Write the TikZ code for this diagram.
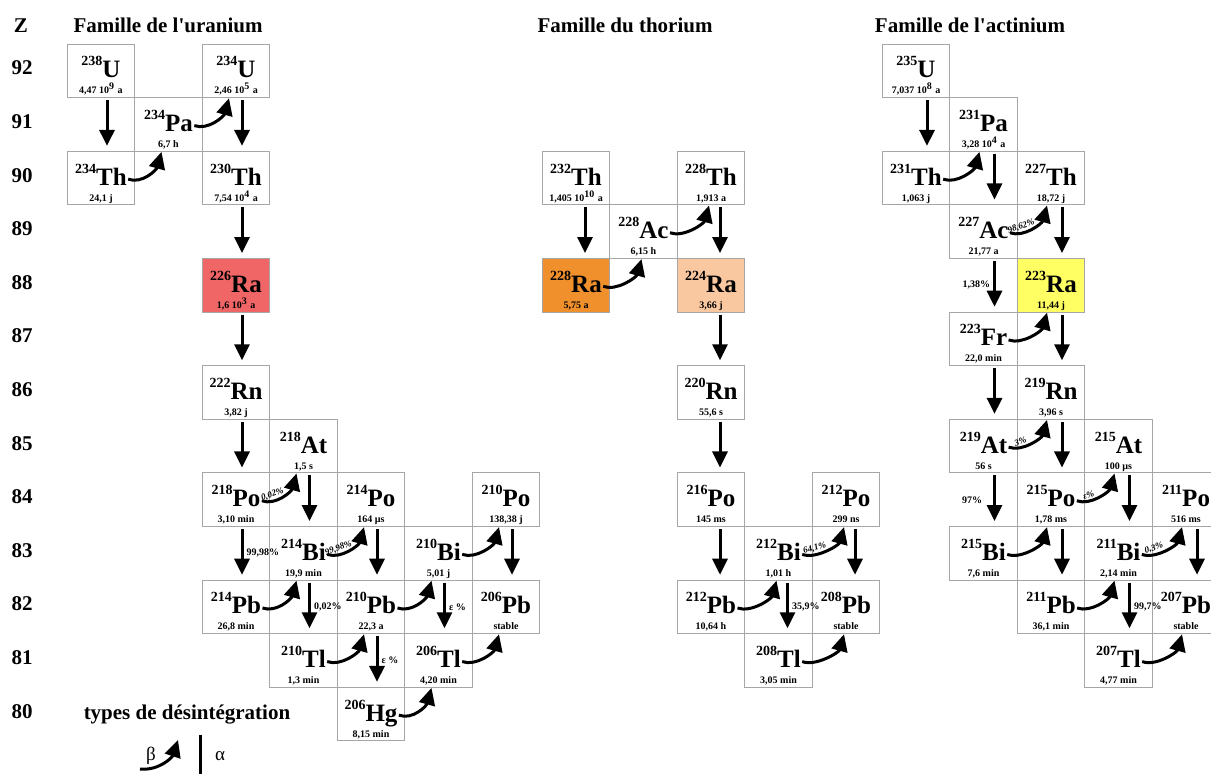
\documentclass[tikz,border=0pt]{standalone}
\usepackage{fontspec}
\setmainfont{Liberation Serif}
\usetikzlibrary{arrows.meta}

\definecolor{raU}{HTML}{F06666}
\definecolor{raTh}{HTML}{F0902C}
\definecolor{raThb}{HTML}{FAC8A0}
\definecolor{raAc}{HTML}{FFFF64}

\tikzset{
  nbox/.style={draw=black!35, line width=0.5pt, minimum width=33.75pt, minimum height=26.8pt, inner sep=0pt},
  sym/.style={font=\fontsize{12.5}{12.5}\selectfont\bfseries, inner sep=0.5pt, anchor=base},
  thalf/.style={font=\fontsize{5}{5}\selectfont\bfseries, inner sep=0pt, anchor=base},
  adecay/.style={line width=1.5pt, -{Triangle[width=7.5pt,length=8pt]}, shorten >=2.5pt, shorten <=1pt},
  bdecay/.style={line width=1.5pt, -{Triangle[width=8pt,length=8.5pt]}},
  pct/.style={font=\fontsize{5}{5}\selectfont\bfseries, inner sep=1.5pt},
  bpct/.style={font=\fontsize{4.5}{5}\selectfont\bfseries\itshape, inner sep=0.5pt},
  ttl/.style={font=\fontsize{10.5}{11}\selectfont\bfseries, anchor=base},
  grk/.style={font=\fontsize{9.5}{10}\selectfont, anchor=base},
}

\newcommand\nuc[7][white]{%
  \node[nbox, fill=#1] (#2) at (#3,{71+53.6*(92-#4)}) {};
  \node[sym] (s#2) at ([yshift=-3.5pt]#2.center) {\raisebox{6pt}{\fontsize{7}{7}\selectfont #5}#6};
  \node[thalf] (t#2) at ([yshift=-11.5pt]#2.center) {#7};
}

\begin{document}
\begin{tikzpicture}[x=0.5pt, y=-0.5pt]
	\useasboundingbox (0,0) rectangle (1211,774);
	\clip (0,0) rectangle (1211,774);

	\node[ttl] (zz) at (21,33) {Z};
	\foreach \z in {80,...,92}
		\node[ttl] (z\z) at (22,{75+53.6*(92-\z)}) {\z};
	\node[ttl] (fU) at (168,33) {Famille de l\textquotesingle uranium};
	\node[ttl] (fTh) at (625,33) {Famille du thorium};
	\node[ttl] (fAc) at (970,33) {Famille de l\textquotesingle actinium};

	\nuc{U238}{101}{92}{238}{U}{4,47 10\textsuperscript{9} a}
	\nuc{Th234}{101}{90}{234}{Th}{24,1 j}
	\nuc{Pa234}{168.5}{91}{234}{Pa}{6,7 h}
	\nuc{U234}{236}{92}{234}{U}{2,46 10\textsuperscript{5} a}
	\nuc{Th230}{236}{90}{230}{Th}{7,54 10\textsuperscript{4} a}
	\nuc[raU]{Ra226}{236}{88}{226}{Ra}{1,6 10\textsuperscript{3} a}
	\nuc{Rn222}{236}{86}{222}{Rn}{3,82 j}
	\nuc{At218}{303.5}{85}{218}{At}{1,5 s}
	\nuc{Po218}{236}{84}{218}{Po}{3,10 min}
	\nuc{Po214}{371}{84}{214}{Po}{164 µs}
	\nuc{Po210}{506}{84}{210}{Po}{138,38 j}
	\nuc{Bi214}{303.5}{83}{214}{Bi}{19,9 min}
	\nuc{Bi210}{438.5}{83}{210}{Bi}{5,01 j}
	\nuc{Pb214}{236}{82}{214}{Pb}{26,8 min}
	\nuc{Pb210}{371}{82}{210}{Pb}{22,3 a}
	\nuc{Pb206}{506}{82}{206}{Pb}{stable}
	\nuc{Tl210}{303.5}{81}{210}{Tl}{1,3 min}
	\nuc{Tl206}{438.5}{81}{206}{Tl}{4,20 min}
	\nuc{Hg206}{371}{80}{206}{Hg}{8,15 min}

	\nuc{Th232}{576}{90}{232}{Th}{1,405 10\textsuperscript{10} a}
	\nuc[raTh]{Ra228}{576}{88}{228}{Ra}{5,75 a}
	\nuc{Ac228}{643.5}{89}{228}{Ac}{6,15 h}
	\nuc{Th228}{711}{90}{228}{Th}{1,913 a}
	\nuc[raThb]{Ra224}{711}{88}{224}{Ra}{3,66 j}
	\nuc{Rn220}{711}{86}{220}{Rn}{55,6 s}
	\nuc{Po216}{711}{84}{216}{Po}{145 ms}
	\nuc{Bi212}{778.5}{83}{212}{Bi}{1,01 h}
	\nuc{Po212}{846}{84}{212}{Po}{299 ns}
	\nuc{Pb212}{711}{82}{212}{Pb}{10,64 h}
	\nuc{Pb208}{846}{82}{208}{Pb}{stable}
	\nuc{Tl208}{778.5}{81}{208}{Tl}{3,05 min}

	\nuc{U235}{916}{92}{235}{U}{7,037 10\textsuperscript{8} a}
	\nuc{Pa231}{983.5}{91}{231}{Pa}{3,28 10\textsuperscript{4} a}
	\nuc{Th231}{916}{90}{231}{Th}{1,063 j}
	\nuc{Th227}{1051}{90}{227}{Th}{18,72 j}
	\nuc{Ac227}{983.5}{89}{227}{Ac}{21,77 a}
	\nuc[raAc]{Ra223}{1051}{88}{223}{Ra}{11,44 j}
	\nuc{Fr223}{983.5}{87}{223}{Fr}{22,0 min}
	\nuc{Rn219}{1051}{86}{219}{Rn}{3,96 s}
	\nuc{At219}{983.5}{85}{219}{At}{56 s}
	\nuc{At215}{1118.5}{85}{215}{At}{100 µs}
	\nuc{Po215}{1051}{84}{215}{Po}{1,78 ms}
	\nuc{Po211}{1186}{84}{211}{Po}{516 ms}
	\nuc{Bi215}{983.5}{83}{215}{Bi}{7,6 min}
	\nuc{Bi211}{1118.5}{83}{211}{Bi}{2,14 min}
	\nuc{Pb211}{1051}{82}{211}{Pb}{36,1 min}
	\nuc{Pb207}{1186}{82}{207}{Pb}{stable}
	\nuc{Tl207}{1118.5}{81}{207}{Tl}{4,77 min}

	\foreach \a/\b/\l in {U238/Th234/{}, U234/Th230/{}, Th230/Ra226/{}, Ra226/Rn222/{}, Rn222/Po218/{},
			Po218/Pb214/{99,98\%}, At218/Bi214/{}, Po214/Pb210/{}, Bi214/Tl210/{0,02\%},
			Po210/Pb206/{}, Bi210/Tl206/{ε \%}, Pb210/Hg206/{ε \%}}
		\draw[adecay] ([xshift=3pt]\a.south) -- node[pct, right] {\l} ([xshift=3pt]\b.north);
	\foreach \a/\b/\l in {Th234/Pa234/{}, Pa234/U234/{}, Po218/At218/{0,02\%}, Bi214/Po214/{99,98\%},
			Pb214/Bi214/{}, Bi210/Po210/{}, Pb210/Bi210/{}, Tl210/Pb210/{}, Tl206/Pb206/{}, Hg206/Tl206/{}}
		\draw[bdecay] ([yshift=3pt]s\a.base east) .. controls +(14,5) and +(-5,18) .. ([xshift=-3.5pt]\b.south)
			node[bpct, pos=0.3, sloped, above] {\l};

	\foreach \a/\b/\l in {Th232/Ra228/{}, Th228/Ra224/{}, Ra224/Rn220/{}, Rn220/Po216/{},
			Po216/Pb212/{}, Po212/Pb208/{}, Bi212/Tl208/{35,9\%}}
		\draw[adecay] ([xshift=4.5pt]\a.south) -- node[pct, right] {\l} ([xshift=4.5pt]\b.north);
	\foreach \a/\b/\l in {Ra228/Ac228/{}, Ac228/Th228/{}, Pb212/Bi212/{}, Bi212/Po212/{64,1\%}, Tl208/Pb208/{}}
		\draw[bdecay] ([yshift=3pt]s\a.base east) .. controls +(14,5) and +(-5,18) .. ([xshift=-1pt]\b.south)
			node[bpct, pos=0.3, sloped, above] {\l};

	\foreach \a/\b/\l in {U235/Th231/{}, Pa231/Ac227/{}, Th227/Ra223/{}, Ra223/Rn219/{},
			Fr223/At219/{}, Rn219/Po215/{}, At215/Bi211/{}, Po215/Pb211/{},
			Po211/Pb207/{}, Bi211/Tl207/{99,7\%}}
		\draw[adecay] ([xshift=5.5pt]\a.south) -- node[pct, right] {\l} ([xshift=5.5pt]\b.north);
	\draw[adecay] ([xshift=5.5pt]Ac227.south) -- node[pct, left] {1,38\%} ([xshift=5.5pt]Fr223.north);
	\draw[adecay] ([xshift=5.5pt]At219.south) -- node[pct, left=4pt] {97\%} ([xshift=5.5pt]Bi215.north);
	\foreach \a/\b/\l in {Th231/Pa231/{}, Ac227/Th227/{98,62\%}, Fr223/Ra223/{}, At219/Rn219/{3\%},
			Po215/At215/{ε\%}, Bi215/Po215/{}, Bi211/Po211/{0,3\%}, Pb211/Bi211/{}, Tl207/Pb207/{}}
		\draw[bdecay] ([yshift=3pt]s\a.base east) .. controls +(14,5) and +(-5,18) .. ([xshift=-2pt]\b.south)
			node[bpct, pos=0.3, sloped, above] {\l};

	\node[ttl] (leg) at (187,720) {types de désintégration};
	\coordinate (lb0) at (140,769);
	\coordinate (lb1) at (178,740);
	\coordinate (la0) at (200,733);
	\coordinate (la1) at (200,805);
	\draw[bdecay] (lb0) .. controls +(18,2) and +(-6,18) .. (lb1);
	\draw[adecay] (la0) -- (la1);
	\node[grk] (lbeta) at (151,761) {β};
	\node[grk] (lalpha) at (220,761) {α};
\end{tikzpicture}
\end{document}
